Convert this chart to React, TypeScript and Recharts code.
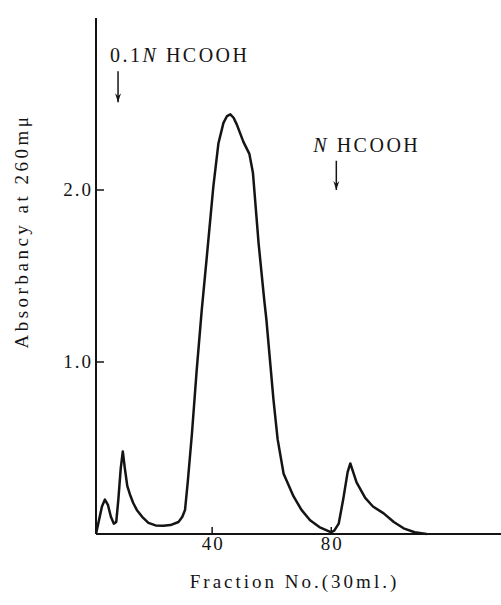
import { LineChart, Line, XAxis, YAxis, ReferenceLine } from "recharts";

// elution profile
const fractionNo = [
  1, 2, 3, 4, 5, 6, 7, 7.8, 8.5, 9.3, 10, 10.7, 11.5, 12.4, 13.5, 14.7, 16.5, 18.6, 21, 23.6,
  26, 28.7, 30, 30.9, 31.8, 33.2, 34.8, 36.5, 38.2, 40.4, 42.1, 43.8, 45, 46.1, 47.2, 48.3,
  50.5, 52.5, 53.7, 55.6, 57.5, 58.2, 60.6, 62, 64, 67.3, 70, 72.9, 76, 80, 81, 82.5, 84,
  85.5, 86.4, 88.5, 91.4, 94, 97.6, 101, 104.3, 108, 112,
];
const absorbance = [
  0.0, 0.08, 0.16, 0.2, 0.17, 0.1, 0.06, 0.07, 0.2, 0.38, 0.48, 0.38, 0.28, 0.23, 0.18, 0.14,
  0.1, 0.065, 0.05, 0.048, 0.052, 0.07, 0.1, 0.14, 0.3, 0.58, 0.95, 1.3, 1.61, 2.02, 2.27, 2.39,
  2.43, 2.44, 2.42, 2.38, 2.28, 2.21, 2.1, 1.69, 1.36, 1.25, 0.78, 0.55, 0.35, 0.22, 0.14, 0.08,
  0.04, 0.01, 0.02, 0.06, 0.2, 0.36, 0.41, 0.3, 0.21, 0.16, 0.12, 0.07, 0.033, 0.01, 0.0,
];

const xTicks = [40, 80];
const yTicks = [1.0, 2.0];
const xLabel = "Fraction No.(30ml.)";
const yLabel = "Absorbancy at 260mμ";

// eluent changes marked with arrows
const eluentFraction = [8.4, 81.7];
const arrowFrom = [2.69, 2.17];
const arrowTo = [2.51, 2.0];
const eluentNormality = ["0.1", ""];
const eluentName = ["HCOOH", "HCOOH"];
const labelShift = [-8, -23];

const data = fractionNo.map((x, i) => ({ x, y: absorbance[i] }));

const FONT = "'Liberation Serif', 'DejaVu Serif', serif";
const INK = "#141414";

const XTick = ({ x, y, payload }: any) => (
  <g>
    <line x1={x} x2={x} y1={y} y2={y - 7} stroke={INK} strokeWidth={1.5} />
    <text x={x + 1} y={y + 16} textAnchor="middle" fontSize={19} letterSpacing={2} fontFamily={FONT} fill={INK}>
      {payload.value}
    </text>
  </g>
);

const YTick = ({ x, y, payload }: any) => (
  <g>
    <line x1={x} x2={x + 8} y1={y} y2={y} stroke={INK} strokeWidth={1.5} />
    <text x={x - 3} y={y + 6} textAnchor="end" fontSize={19} letterSpacing={2} fontFamily={FONT} fill={INK}>
      {payload.value.toFixed(1)}
    </text>
  </g>
);

const arrowShape = (i: number) => (props: any) => {
  const { x1, y1, x2, y2 } = props;
  return (
    <g>
      <line x1={x1} y1={y1} x2={x2} y2={y2} stroke={INK} strokeWidth={1.5} />
      <path d={`M${x2 - 3},${y2 - 9} L${x2},${y2} L${x2 + 3},${y2 - 9} L${x2},${y2 - 6} Z`} fill={INK} />
      <text x={x1 + labelShift[i]} y={y1 - 9} fontSize={20} letterSpacing={2.5} fontFamily={FONT} fill={INK}>
        {eluentNormality[i]}
        <tspan fontStyle="italic">N</tspan>
        {" " + eluentName[i]}
      </text>
    </g>
  );
};

export default function App() {
  return (
    <div style={{ position: "absolute", left: 0, top: 0, width: 501, height: 605, background: "#fff" }}>
      <LineChart width={501} height={605} data={data} margin={{ top: 18, right: 0, bottom: 41, left: 36 }}>
        <XAxis
          dataKey="x"
          type="number"
          domain={[1, 137]}
          ticks={xTicks}
          allowDataOverflow
          height={30}
          axisLine={{ stroke: INK, strokeWidth: 2 }}
          tickLine={false}
          tickSize={0}
          tickMargin={0}
          tick={XTick}
          label={(p: any) => {
            const vb = p.viewBox;
            return (
              <text x={vb.x + vb.width / 2 - 4} y={vb.y + 54} textAnchor="middle" fontSize={19} letterSpacing={3} fontFamily={FONT} fill={INK}>
                {xLabel}
              </text>
            );
          }}
        />
        <YAxis
          type="number"
          domain={[0, 3]}
          ticks={yTicks}
          width={60}
          axisLine={{ stroke: INK, strokeWidth: 2 }}
          tickLine={false}
          tickSize={0}
          tickMargin={0}
          tick={YTick}
          label={(p: any) => {
            const vb = p.viewBox;
            const cx = vb.x - 8;
            const cy = vb.y + 213;
            return (
              <text x={cx} y={cy} transform={`rotate(-90 ${cx} ${cy})`} textAnchor="middle" fontSize={19} letterSpacing={3.5} fontFamily={FONT} fill={INK}>
                {yLabel}
              </text>
            );
          }}
        />
        {eluentFraction.map((f, i) => (
          <ReferenceLine
            key={i}
            segment={[
              { x: f, y: arrowFrom[i] },
              { x: f, y: arrowTo[i] },
            ]}
            ifOverflow="visible"
            shape={arrowShape(i)}
          />
        ))}
        <Line
          dataKey="y"
          type="linear"
          stroke={INK}
          strokeWidth={2.5}
          strokeLinejoin="round"
          dot={false}
          isAnimationActive={false}
        />
      </LineChart>
    </div>
  );
}
